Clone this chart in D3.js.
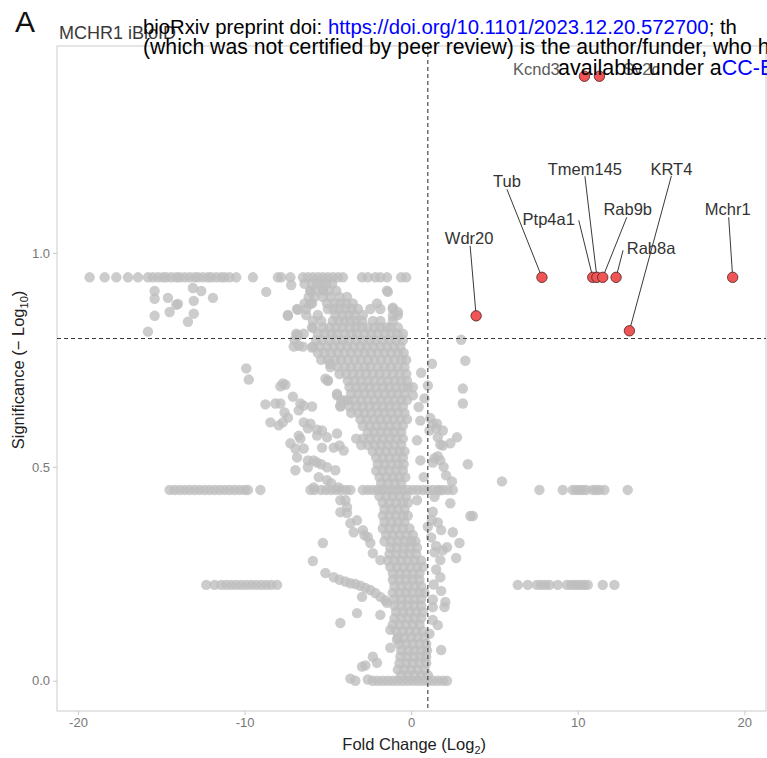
<!DOCTYPE html>
<html>
<head>
<meta charset="utf-8">
<script src="https://cdn.jsdelivr.net/npm/d3@7/dist/d3.min.js"></script>
<style>
  body { margin: 0; background: #fff; }
  svg { display: block; font-family: "Liberation Sans", Arial, sans-serif; }
</style>
</head>
<body>
<div class="volcano"></div>
<script>
// ---- data ----
// labelled hits (red)
const hitGenes = ["Kcnd3", "Sv2c", "Tub", "Wdr20", "Ptp4a1", "Tmem145", "Rab9b", "Rab8a", "KRT4", "Mchr1"];
const hitFC    = [10.4, 11.3, 7.85, 3.9, 10.9, 11.15, 11.5, 12.3, 13.1, 19.3];
const hitSig   = [1.413, 1.413, 0.943, 0.853, 0.943, 0.943, 0.943, 0.943, 0.818, 0.943];

// plateaus where many proteins share the same p value
const plateauSig = [0.943, 0.446, 0.224, 0.0];
const plateauTopFC = [-19.3, -18.4, -17.7, -17.0, -16.4, -15.8, -15.5, -15.2, -14.9, -14.7, -14.4, -14.1, -13.9, -13.6,
  -13.3, -13.0, -12.8, -12.5, -12.2, -12.0, -11.7, -11.4, -11.2, -10.9, -10.5, -9.5, -8.0, -7.8, -7.25, -6.5, -6.2,
  -5.9, -5.6, -5.3, -5.0, -4.7, -4.4, -4.1, -2.95, -2.6, -2.15, -1.85, -1.45, -0.6, -0.3];
const plateauMidFC = [-14.5, -14.2, -13.9, -13.6, -13.3, -13.0, -12.7, -12.4, -12.1, -11.8, -11.5, -11.2, -10.9, -10.6,
  -10.3, -10.0, -9.8, -9.05, -6.05, -5.8, -5.4, -5.1, -4.8, -4.5, -4.2, -3.9, -3.65, -2.9, -2.6, -2.3, -2.0, -1.7, -1.4,
  -1.1, -0.8, -0.5, -0.2, 0.1, 0.4, 0.7, 1.0, 1.3, 1.6, 1.9, 2.2, 2.5, 7.7, 9.1, 9.7, 9.9, 10.1, 10.3, 10.5, 10.9, 11.1,
  11.3, 11.6, 13.0];
const plateauLowFC = [-12.3, -11.8, -11.4, -11.1, -10.8, -10.5, -10.2, -9.9, -9.6, -9.3, -9.0, -8.7, -8.4, -8.05,
  6.4, 7.0, 7.55, 7.8, 8.05, 8.3, 8.8, 9.35, 9.6, 9.8, 10.0, 10.2, 10.4, 10.6, 11.5, 12.2];
const plateauZeroFC = [-2.3, -2.0, -1.7, -1.4, -1.1, -0.8, -0.5, -0.2, 0.1, 0.4, 0.7, 1.0, 1.3, 1.6, 1.9, 2.15];

// dense main cloud, one list of fold changes per significance level
const bodySig = [0.928, 0.912, 0.897, 0.882, 0.869, 0.855, 0.841, 0.826, 0.811, 0.796, 0.781, 0.766, 0.750, 0.733,
  0.717, 0.701, 0.686, 0.671, 0.656, 0.641, 0.626, 0.611, 0.596, 0.581, 0.566, 0.551, 0.536, 0.521, 0.506, 0.491,
  0.476, 0.461, 0.431, 0.416, 0.401, 0.386, 0.371, 0.356, 0.341, 0.326, 0.311, 0.296, 0.281, 0.266, 0.251, 0.236,
  0.221, 0.206, 0.191, 0.176, 0.161, 0.146, 0.131, 0.116, 0.101, 0.086, 0.071, 0.056, 0.041, 0.026, 0.013];
const bodyFC = [
  [-6.4, -5.95, -5.65, -5.35, -5.1, -4.75],
  [-6.05, -5.7, -5.3, -4.95, -4.5, -1.45],
  [-6.15, -5.8, -5.3, -4.85, -4.3, -3.85],
  [-6.4, -5.95, -5.05, -4.6, -4.25, -3.9, -3.5, -2.05],
  [-6.85, -6.3, -5.0, -4.65, -4.3, -3.95, -3.55, -3.2, -2.45, -1.85, -1.1],
  [-7.4, -6.3, -5.6, -4.55, -4.15, -3.75, -3.4, -2.9, -0.8],
  [-5.9, -5.4, -4.7, -4.35, -4.0, -3.65, -3.3, -2.95, -2.3, -1.85, -1.1],
  [-5.95, -5.3, -4.9, -4.5, -4.1, -3.7, -3.3, -2.95, -2.6, -2.2, -1.85, -1.5, -1.25, -0.8],
  [-6.9, -6.45, -5.6, -5.2, -4.8, -4.45, -4.0, -3.6, -3.25, -2.8, -2.4, -2.0, -1.6, -1.2, -0.85, -0.5],
  [-7.0, -5.7, -5.35, -4.9, -4.5, -4.1, -3.75, -3.3, -2.9, -2.5, -2.15, -1.7, -1.3, -0.9, -0.5],
  [-7.05, -6.5, -5.9, -5.5, -5.05, -4.65, -4.25, -3.85, -3.45, -3.05, -2.65, -2.25, -1.85, -1.45, -1.05, -0.65],
  [-5.6, -5.2, -4.8, -4.4, -4.0, -3.6, -3.2, -2.8, -2.4, -2.0, -1.6, -1.2, -0.8, -0.45],
  [-5.4, -5.0, -4.55, -4.2, -3.8, -3.4, -3.0, -2.6, -2.2, -1.8, -1.4, -1.0, -0.6, -0.3],
  [-4.85, -4.4, -4.0, -3.6, -3.2, -2.8, -2.45, -2.0, -1.6, -1.2, -0.8, -0.4],
  [-4.3, -3.9, -3.5, -3.1, -2.7, -2.3, -1.9, -1.5, -1.1, -0.7, -0.3],
  [-5.0, -3.8, -3.4, -3.0, -2.6, -2.2, -1.8, -1.4, -1.0, -0.6, -0.25],
  [-3.7, -3.3, -2.9, -2.5, -2.1, -1.7, -1.3, -0.9, -0.5, -0.2, 0.1],
  [-4.45, -3.6, -3.2, -2.8, -2.4, -2.0, -1.6, -1.2, -0.8, -0.4],
  [-4.2, -3.8, -3.4, -3.0, -2.6, -2.2, -1.8, -1.4, -1.0, -0.6, -0.25],
  [-4.25, -3.7, -3.3, -2.9, -2.5, -2.1, -1.7, -1.3, -0.9, -0.5],
  [-3.6, -3.2, -2.8, -2.4, -2.0, -1.6, -1.2, -0.8, -0.4],
  [-3.05, -2.65, -2.25, -1.85, -1.45, -1.05, -0.65, -0.25],
  [-2.9, -2.5, -2.1, -1.7, -1.3, -0.9, -0.5],
  [-2.6, -2.2, -1.8, -1.4, -1.0, -0.6],
  [-3.3, -2.9, -2.5, -2.1, -1.7, -1.3, -0.9, -0.5],
  [-3.0, -2.6, -2.2, -1.8, -1.4, -1.0, -0.6],
  [-2.3, -1.9, -1.5, -1.1, -0.7, -0.4],
  [-2.1, -1.7, -1.3, -0.9, -0.5],
  [-2.0, -1.6, -1.2, -0.8, -0.45],
  [-2.1, -1.7, -1.3, -0.9, -0.5],
  [-1.9, -1.5, -1.1, -0.7, -0.35],
  [-1.8, -1.4, -1.0, -0.6],
  [-1.9, -1.5, -1.1, -0.7, -0.3],
  [-1.7, -1.3, -0.9, -0.5, -0.2],
  [-1.6, -1.2, -0.8, -0.4],
  [-1.7, -1.3, -0.9, -0.5, -0.2],
  [-1.6, -1.2, -0.8, -0.4],
  [-1.7, -1.3, -0.9, -0.5, -0.1],
  [-1.5, -1.1, -0.7, -0.3, 0.1],
  [-1.6, -1.2, -0.8, -0.4, 0.0, 0.25],
  [-1.25, -0.85, -0.45, -0.05, 0.35],
  [-1.3, -0.9, -0.5, -0.1, 0.3],
  [-1.4, -1.0, -0.6, -0.2, 0.2, 0.6],
  [-1.25, -0.85, -0.45, -0.05, 0.35, 0.7],
  [-1.1, -0.7, -0.3, 0.1, 0.5],
  [-1.1, -0.7, -0.3, 0.1, 0.5],
  [-1.0, -0.6, -0.2, 0.2, 0.6],
  [-1.1, -0.7, -0.3, 0.1, 0.5, 0.8],
  [-1.0, -0.6, -0.2, 0.2, 0.6],
  [-1.0, -0.6, -0.2, 0.2, 0.6],
  [-0.9, -0.5, -0.1, 0.3, 0.7],
  [-1.0, -0.6, -0.2, 0.2, 0.6],
  [-1.1, -0.7, -0.3, 0.1, 0.5],
  [-0.9, -0.5, -0.1, 0.3, 0.7],
  [-0.8, -0.4, 0.0, 0.4, 0.8],
  [-0.7, -0.3, 0.1, 0.5, 0.9],
  [-0.6, -0.2, 0.2, 0.6, 0.95],
  [-0.65, -0.25, 0.15, 0.55, 0.9],
  [-0.7, -0.3, 0.1, 0.5, 0.9],
  [-0.8, -0.4, 0.0, 0.4, 0.8],
  [-0.6, -0.2, 0.2, 0.6, 1.0]
];

// scattered points outside the main cloud: [fold change, significance]
const spreadPoints = [
  [-15.4, 0.911], [-15.4, 0.893], [-14.6, 0.895], [-14.1, 0.879], [-14.0, 0.881], [-14.5, 0.862], [-15.4, 0.853],
  [-15.8, 0.816], [-13.1, 0.918], [-12.6, 0.911], [-13.05, 0.888], [-11.9, 0.895], [-13.05, 0.858], [-13.4, 0.839],
  [-8.7, 0.909], [-7.2, 0.925], [-6.05, 0.911], [-5.3, 0.914], [-1.4, 0.909], [-6.8, 0.867], [-7.4, 0.853],
  [-6.05, 0.881], [-1.1, 0.872], [-0.8, 0.862], [-1.1, 0.853], [-5.9, 0.825], [-6.8, 0.807],
  [-9.9, 0.73], [-9.75, 0.704], [-7.7, 0.695], [-7.55, 0.692], [-7.85, 0.688], [-7.1, 0.664], [-8.75, 0.646],
  [-8.15, 0.648], [-7.85, 0.648], [-6.65, 0.648], [-6.45, 0.643], [-5.95, 0.641], [-6.75, 0.632], [-7.6, 0.627],
  [-7.4, 0.615], [-8.45, 0.604], [-7.95, 0.597], [-7.7, 0.604], [-6.45, 0.604], [-6.05, 0.601], [-6.2, 0.59],
  [-6.75, 0.573], [-6.65, 0.566], [-5.65, 0.587], [-5.35, 0.585], [-5.65, 0.573], [-5.05, 0.569], [-4.45, 0.578],
  [-7.25, 0.555], [-6.95, 0.543], [-6.45, 0.543], [-6.85, 0.522], [-6.2, 0.515], [-6.95, 0.492], [-6.2, 0.499],
  [-5.65, 0.51], [-5.4, 0.506], [-5.85, 0.515], [-5.05, 0.499], [-5.35, 0.545], [-4.65, 0.545], [-4.3, 0.55],
  [-4.05, 0.538], [-5.55, 0.476], [-5.05, 0.469], [-4.8, 0.462], [-5.85, 0.452], [-4.85, 0.741], [-5.0, 0.702],
  [-5.15, 0.706], [-4.45, 0.667], [-4.25, 0.643], [-4.0, 0.655], [-6.85, 0.807], [-6.75, 0.783], [-5.95, 0.779],
  [-4.55, 0.492], [-4.35, 0.452], [-3.95, 0.422],
  [-4.25, 0.422], [-3.85, 0.406], [-3.85, 0.392], [-4.25, 0.394], [-3.65, 0.368], [-3.25, 0.375], [-2.9, 0.352],
  [-3.45, 0.347], [-2.6, 0.336], [-2.45, 0.322], [-2.3, 0.298], [-1.85, 0.282], [-2.8, 0.34],
  [-5.15, 0.252], [-4.65, 0.242], [-4.3, 0.236], [-3.95, 0.232], [-3.65, 0.228], [-3.35, 0.226], [-3.05, 0.222],
  [-2.75, 0.217], [-2.45, 0.212], [-2.15, 0.205], [-1.85, 0.196], [-1.55, 0.188], [-1.45, 0.182],
  [-2.95, 0.196], [-3.25, 0.158], [-4.25, 0.135], [-1.85, 0.154], [-5.9, 0.28], [-5.3, 0.322],
  [-3.65, 0.005], [-3.35, 0.0], [-2.95, 0.033], [-2.75, 0.036], [-2.3, 0.056], [-2.05, 0.042], [-2.6, 0.003],
  [-1.25, 0.119], [-1.25, 0.077], [-0.85, 0.096],
  [3.0, 0.797], [3.25, 0.748], [3.1, 0.683], [3.1, 0.648], [1.25, 0.741], [3.4, 0.506], [5.45, 0.466], [3.55, 0.385],
  [3.7, 0.385], [2.75, 0.569], [2.35, 0.555], [1.75, 0.552], [1.9, 0.585], [1.3, 0.601], [1.6, 0.569], [1.75, 0.515],
  [2.45, 0.466], [2.35, 0.415], [1.8, 0.352], [2.5, 0.347], [2.9, 0.322], [2.15, 0.312], [2.7, 0.287], [1.75, 0.282],
  [1.75, 0.242], [2.05, 0.184], [2.0, 0.172], [1.3, 0.142], [1.8, 0.072], [1.3, 0.172], [0.55, 0.608], [1.15, 0.614],
  [1.55, 0.601], [0.55, 0.515], [0.75, 0.476], [0.35, 0.422], [1.25, 0.375], [1.0, 0.36], [1.9, 0.305], [0.1, 0.667],
  [1.1, 0.585], [1.0, 0.69], [1.4, 0.52], [1.5, 0.59], [1.9, 0.55], [1.6, 0.525], [1.3, 0.51], [1.95, 0.5],
  [2.1, 0.48], [1.7, 0.445], [1.4, 0.43], [1.3, 0.395], [1.6, 0.37], [1.2, 0.335], [1.5, 0.315], [1.4, 0.3],
  [1.5, 0.26], [1.35, 0.225], [1.8, 0.21], [1.3, 0.19], [1.6, 0.13], [1.1, 0.11], [0.35, 0.562], [0.6, 0.72],
  [0.8, 0.66], [0.45, 0.64]
];

const xTicks = [-20, -10, 0, 10, 20];
const yTicks = [0, 0.5, 1.0];
const fcCutoff = 1;
const sigCutoff = 0.8;

// ---- layout ----
const Width = 767, Height = 758;
const Panel = {left: 57, right: 766, top: 46, bottom: 711};

// label placement in pixels relative to the point: text centre (dx, dy), segment start (sx, sy)
const labelLayout = [
  {dx: -48, dy: -7}, {dx: 42, dy: -7},
  {dx: -35, dy: -96, sx: -35, sy: -88}, {dx: -7, dy: -78, sx: -6, sy: -70},
  {dx: -44, dy: -58, sx: -14, sy: -57}, {dx: -12, dy: -108, sx: -12, sy: -101},
  {dx: 25, dy: -68, sx: 24, sy: -60}, {dx: 35, dy: -29, sx: 7, sy: -27},
  {dx: 42, dy: -162, sx: 42, sy: -155}, {dx: -5, dy: -68, sx: -4, sy: -60}
];

var svg = d3.select(".volcano").append("svg")
    .attr("width", Width)
    .attr("height", Height);

const x = d3.scaleLinear().domain([-21.26, 21.3]).range([Panel.left, Panel.right]);
const y = d3.scaleLinear().domain([-0.0707, 1.4837]).range([Panel.bottom, Panel.top]);

// gather grey points
var grey = [];
plateauTopFC.forEach(d => grey.push([d, plateauSig[0]]));
plateauMidFC.forEach(d => grey.push([d, plateauSig[1]]));
plateauLowFC.forEach(d => grey.push([d, plateauSig[2]]));
plateauZeroFC.forEach(d => grey.push([d, plateauSig[3]]));
bodySig.forEach((s, i) => bodyFC[i].forEach(d => grey.push([d, s])));
spreadPoints.forEach(d => grey.push(d));

// panel border
svg.append("rect")
    .attr("x", Panel.left).attr("y", Panel.top)
    .attr("width", Panel.right - Panel.left)
    .attr("height", Panel.bottom - Panel.top)
    .attr("fill", "none")
    .attr("stroke", "#d4d4d4")
    .attr("stroke-width", 1.2);

// axes
var xAxis = svg.append("g")
    .attr("transform", "translate(0," + Panel.bottom + ")")
    .call(d3.axisBottom(x).tickValues(xTicks).tickSize(4).tickPadding(3)
      .tickFormat(d => String(d)));
var yAxis = svg.append("g")
    .attr("transform", "translate(" + Panel.left + ",0)")
    .call(d3.axisLeft(y).tickValues(yTicks).tickSize(4).tickPadding(3)
      .tickFormat(d3.format(".1f")));
[xAxis, yAxis].forEach(g => {
  g.select(".domain").remove();
  g.selectAll(".tick line").attr("stroke", "#cccccc").attr("stroke-width", 1.1);
  g.selectAll(".tick text").attr("fill", "#777").style("font-size", "13px")
    .style("font-family", "'Liberation Sans', Arial, sans-serif");
});

// grey points
svg.append("g").selectAll("circle")
  .data(grey)
  .enter().append("circle")
    .attr("cx", d => x(d[0]))
    .attr("cy", d => y(d[1]))
    .attr("r", 5.2)
    .attr("fill", "#bebebe")
    .attr("fill-opacity", 0.78);

// cut-off lines
svg.append("line")
    .attr("x1", x(fcCutoff)).attr("x2", x(fcCutoff))
    .attr("y1", Panel.top).attr("y2", Panel.bottom)
    .attr("stroke", "#3a3a3a").attr("stroke-width", 1.1)
    .attr("stroke-dasharray", "4,3");
svg.append("line")
    .attr("x1", Panel.left).attr("x2", Panel.right)
    .attr("y1", y(sigCutoff)).attr("y2", y(sigCutoff))
    .attr("stroke", "#3a3a3a").attr("stroke-width", 1.1)
    .attr("stroke-dasharray", "4,3");

// label segments
hitGenes.forEach((g, i) => {
  const L = labelLayout[i];
  if (L.sx === undefined) return;
  svg.append("line")
    .attr("x1", x(hitFC[i]) + L.sx).attr("y1", y(hitSig[i]) + L.sy)
    .attr("x2", x(hitFC[i])).attr("y2", y(hitSig[i]))
    .attr("stroke", "#222").attr("stroke-width", 0.9);
});

// red hits
svg.append("g").selectAll("circle")
  .data(hitGenes)
  .enter().append("circle")
    .attr("cx", (d, i) => x(hitFC[i]))
    .attr("cy", (d, i) => y(hitSig[i]))
    .attr("r", 5.2)
    .attr("fill", "#f05555")
    .attr("stroke", "#4a2020")
    .attr("stroke-width", 0.8);

// gene labels
svg.append("g").selectAll("text")
  .data(hitGenes)
  .enter().append("text")
    .attr("x", (d, i) => x(hitFC[i]) + labelLayout[i].dx)
    .attr("y", (d, i) => y(hitSig[i]) + labelLayout[i].dy)
    .attr("dy", "0.35em")
    .attr("text-anchor", "middle")
    .style("font-size", "16.5px")
    .attr("fill", (d, i) => i < 2 ? "#5c5c5c" : "#333")
    .text(d => d);

// axis titles
var xTitle = svg.append("text")
    .attr("x", x(0) + 3).attr("y", 750)
    .attr("text-anchor", "middle")
    .style("font-size", "16.5px")
    .attr("fill", "#222");
xTitle.append("tspan").text("Fold Change (Log");
xTitle.append("tspan").attr("dy", 4).style("font-size", "11px").text("2");
xTitle.append("tspan").attr("dy", -4).text(")");

var yTitle = svg.append("text")
    .attr("transform", "translate(18," + 370 + ") rotate(-90)")
    .attr("text-anchor", "middle")
    .attr("dy", "0.35em")
    .style("font-size", "16.5px")
    .attr("fill", "#222");
yTitle.append("tspan").text("Significance (\u2212 Log");
yTitle.append("tspan").attr("dy", 4).style("font-size", "11px").text("10");
yTitle.append("tspan").attr("dy", -4).text(")");

// plot title and panel letter
svg.append("text")
    .attr("x", 59).attr("y", 39)
    .style("font-size", "18px")
    .attr("fill", "#3a3a3a")
    .text("MCHR1 iBioID");
svg.append("text")
    .attr("x", 15).attr("y", 32)
    .style("font-size", "30px")
    .attr("fill", "#111")
    .text("A");

// preprint watermark lying over the top of the figure
var wm1 = svg.append("text").attr("x", 143).attr("y", 34).style("font-size", "20.3px").attr("fill", "#000");
wm1.append("tspan").text("bioRxiv preprint doi: ");
wm1.append("tspan").attr("fill", "#0000ff").text("https://doi.org/10.1101/2023.12.20.572700");
wm1.append("tspan").text("; th");
svg.append("text").attr("x", 143).attr("y", 54).style("font-size", "21.2px").attr("fill", "#000")
    .text("(which was not certified by peer review) is the author/funder, who h");
var wm3 = svg.append("text").attr("x", 558).attr("y", 75).style("font-size", "21.5px").attr("fill", "#000");
wm3.append("tspan").text("available under a");
wm3.append("tspan").attr("fill", "#0000ff").text("CC-B");
</script>
</body>
</html>
